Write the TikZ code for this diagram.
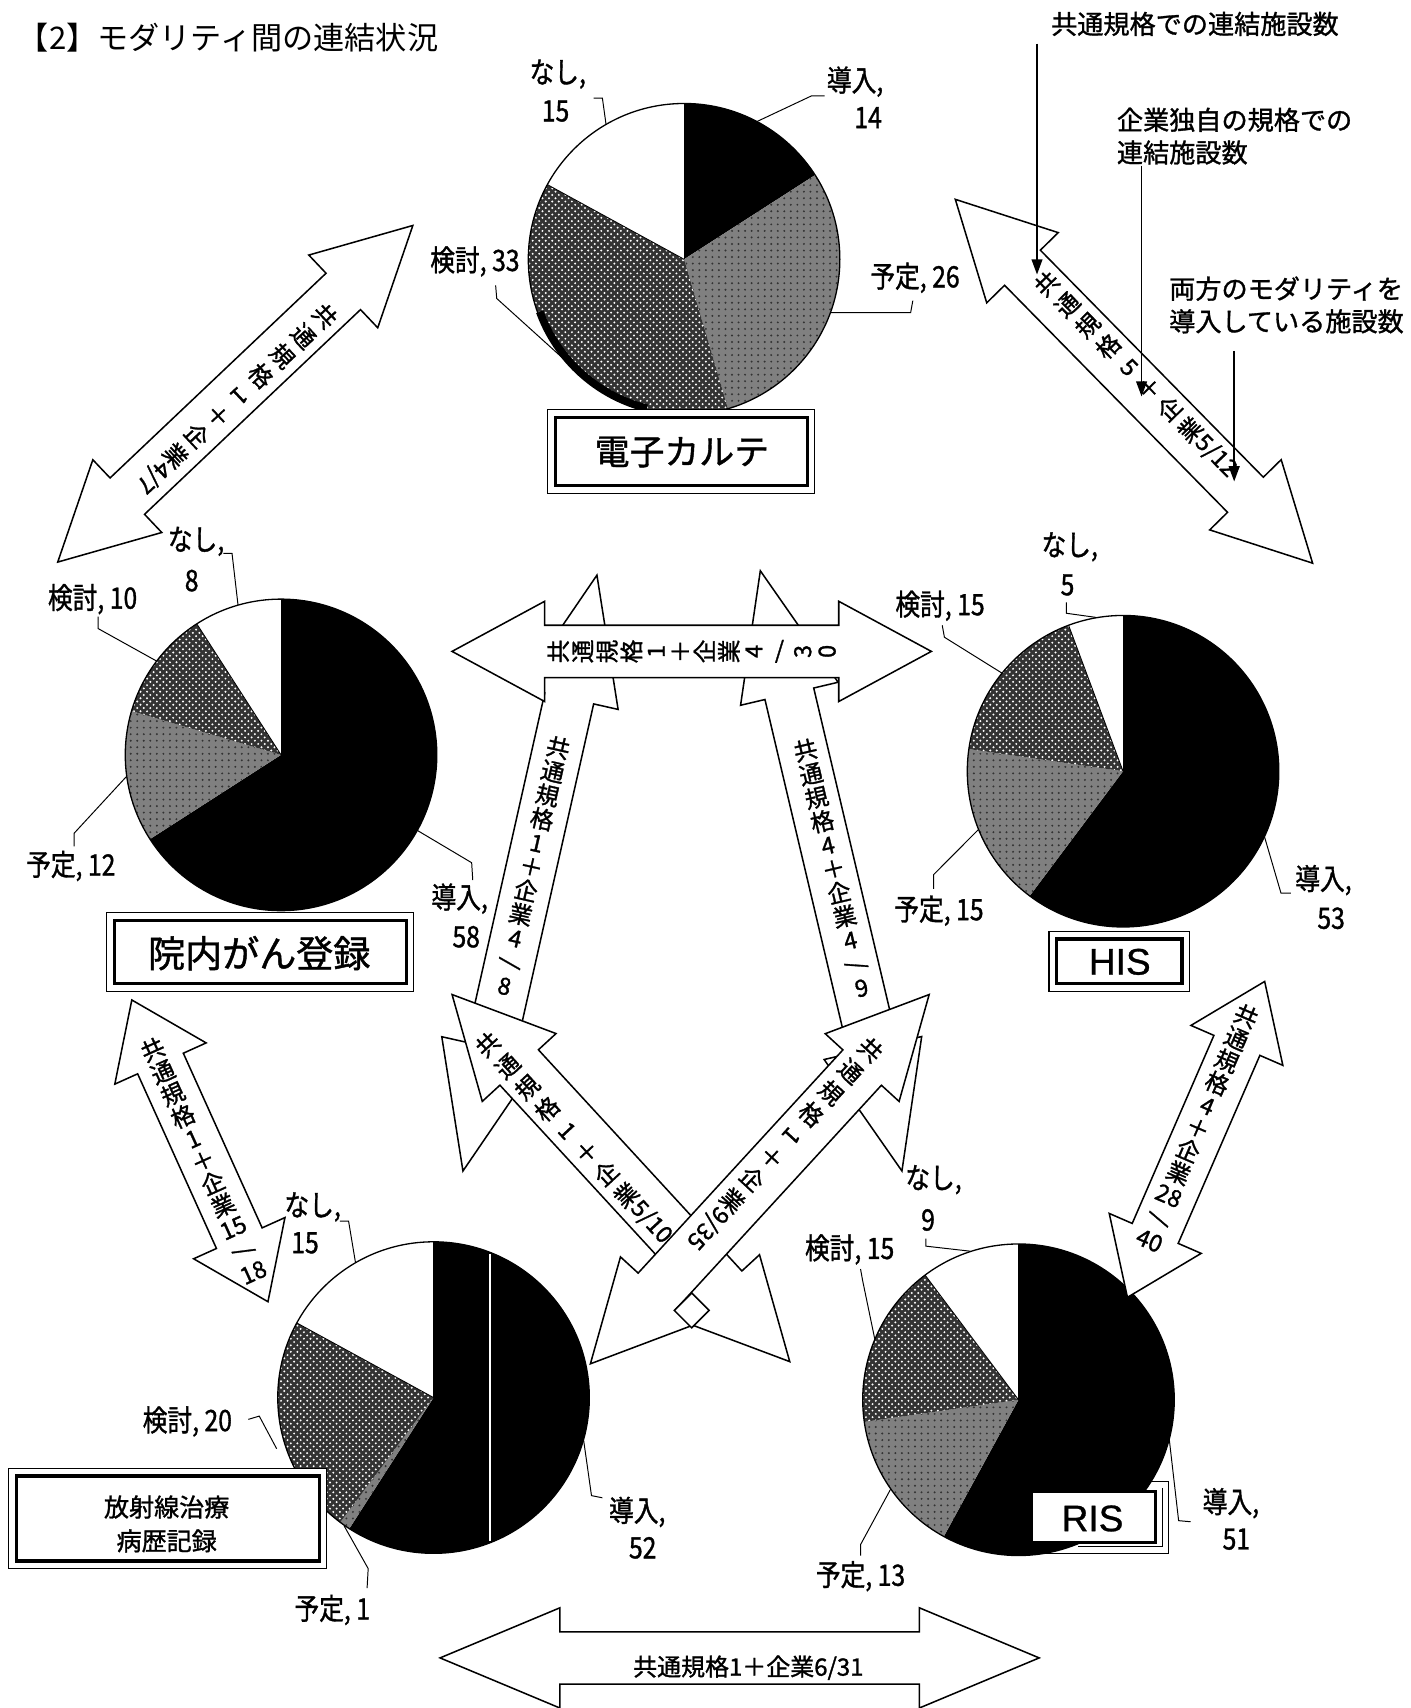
\documentclass[tikz,border=0pt]{standalone}
\usepackage{fontspec}
\usepackage{graphicx}
\usetikzlibrary{calc,patterns,arrows.meta}
\newfontfamily\jp{Noto Sans CJK JP}
\newfontfamily\jpb[FakeBold=1.2]{Noto Sans CJK JP}
\newfontfamily\jpc[FakeStretch=0.84,FakeBold=1.2]{Noto Sans CJK JP}
\newfontfamily\lsans[FakeBold=0.8]{Liberation Sans}
\newcommand\rot[1]{\rotatebox[origin=c]{-90}{#1}}

\tikzset{
  sdo/.style={fill=black},
  syo/.style={fill=black!50},
  skt/.style={fill=black!80},
  pielab/.style={font=\jpc\fontsize{13.5}{14}\selectfont, inner sep=0pt},
  leader/.style={draw, line width=0.45pt},
  barrow/.style={draw, fill=white, line width=0.7pt, line join=miter},
  atext/.style={font=\jpb\fontsize{10.8}{11.2}\selectfont, align=center, inner sep=0pt},
  atextw/.style={font=\jpb\fontsize{10.8}{13.4}\selectfont, align=center, inner sep=0pt},
  legtext/.style={font=\jpb\fontsize{12}{14}\selectfont, inner sep=0pt},
  legarrow/.style={draw, line width=0.7pt, -{Triangle[length=7pt,width=5pt]}},
  outerframe/.style={draw, line width=0.5pt, fill=white},
  innerframe/.style={draw, line width=1.5pt},
}

\newcommand\blockarrow[5]{%
  \coordinate (ba1) at ($(#1)!#5!(#2)$);
  \coordinate (ba2) at ($(#2)!#5!(#1)$);
  \draw[barrow] (#1) -- ($(ba1)!#4!90:(#2)$) -- ($(ba1)!#3!90:(#2)$)
    -- ($(ba2)!#3!-90:(#1)$) -- ($(ba2)!#4!-90:(#1)$) -- (#2)
    -- ($(ba2)!#4!90:(#1)$) -- ($(ba2)!#3!90:(#1)$)
    -- ($(ba1)!#3!-90:(#2)$) -- ($(ba1)!#4!-90:(#2)$) -- cycle;
}

\newcommand\piechart[7]{%
  \pgfmathsetmacro\pieT{#4+#5+#6+#7}%
  \pgfmathsetmacro\pA{-90+#4/\pieT*360}%
  \pgfmathsetmacro\pB{\pA+#5/\pieT*360}%
  \pgfmathsetmacro\pC{\pB+#6/\pieT*360}%
  \fill[sdo] (#2,#3) -- ++(-90:143) arc[start angle=-90,end angle=\pA,radius=143] -- cycle;
  \fill[syo] (#2,#3) -- ++(\pA:143) arc[start angle=\pA,end angle=\pB,radius=143] -- cycle;
  \fill[pattern=dots,pattern color=black!80] (#2,#3) -- ++(\pA:143) arc[start angle=\pA,end angle=\pB,radius=143] -- cycle;
  \fill[skt] (#2,#3) -- ++(\pB:143) arc[start angle=\pB,end angle=\pC,radius=143] -- cycle;
  \fill[pattern=crosshatch dots,pattern color=white] (#2,#3) -- ++(\pB:143) arc[start angle=\pB,end angle=\pC,radius=143] -- cycle;
  \fill[white] (#2,#3) -- ++(\pC:143) arc[start angle=\pC,end angle=270,radius=143] -- cycle;
  \draw[line width=0.4pt] (#2,#3) -- ++(-90:143);
  \draw[line width=0.4pt] (#2,#3) -- ++(\pC:143);
  \draw[line width=0.6pt] (#2,#3) circle[radius=143];
  \node[circle,minimum size=143pt,inner sep=0pt] (#1) at (#2,#3) {};
}

\begin{document}
\begin{tikzpicture}[x=0.5pt,y=-0.5pt]
\useasboundingbox (0,0) rectangle (1295,1568);
\fill[white] (0,0) rectangle (1295,1568);

% title
\node[anchor=west, font=\jp\fontsize{14.3}{16}\selectfont, inner sep=0pt] (title) at (16,35) {【2】モダリティ間の連結状況};

% RIS outer frame (behind pie)
\draw[outerframe] (940,1360) rectangle (1073,1426);
\draw[line width=0.5pt] (1067,1366) -- (1067,1420) -- (990,1420);

% pies
\piechart{P1}{628}{238}{14}{26}{33}{15}
\draw[line width=3.5pt] ($(628,238)+(104:141)$) arc[start angle=104,end angle=160,radius=141];
\piechart{P2}{258}{693}{58}{12}{10}{8}
\piechart{P3}{1031}{708}{53}{15}{15}{5}
\piechart{P4}{398}{1283}{52}{1}{20}{15}
\draw[white, line width=1pt] (450,1151) -- (450,1415);
\piechart{P5}{935}{1285}{51}{13}{15}{9}

% name boxes
\draw[outerframe] (503,376) rectangle (748,453);
\draw[innerframe] (510,383) rectangle (741,446);
\node[font=\jpb\fontsize{16}{18}\selectfont] (B1) at (626,415) {電子カルテ};

\draw[outerframe] (98,838) rectangle (380,910);
\draw[innerframe] (105,845) rectangle (373,903);
\node[font=\jpb\fontsize{17}{19}\selectfont] (B2) at (238,875) {院内がん登録};

\draw[outerframe] (963,855) rectangle (1092,910);
\draw[innerframe] (970,862) rectangle (1085,903);
\node[font=\lsans\fontsize{17}{19}\selectfont] (B3) at (1028,883) {HIS};

\draw[outerframe] (8,1348) rectangle (300,1440);
\draw[innerframe] (15,1355) rectangle (293,1433);
\node[font=\jpb\fontsize{11.5}{15.5}\selectfont, align=center] (B4) at (153,1399) {放射線治療\\病歴記録};

\draw[fill=white, line width=1.2pt] (947,1369) rectangle (1061,1416);
\node[font=\lsans\fontsize{17}{19}\selectfont] (B5) at (1003,1394) {RIS};

% arrow end points
\coordinate (a4u) at (548,528);  \coordinate (a4d) at (425,1075);
\coordinate (a5u) at (698,524);  \coordinate (a5d) at (828,1075);
\coordinate (a3l) at (415,598);  \coordinate (a3r) at (855,598);
\coordinate (a1u) at (379,207);  \coordinate (a1d) at (53,516);
\coordinate (a2u) at (877,183);  \coordinate (a2d) at (1205,517);
\coordinate (a8u) at (121,918);  \coordinate (a8d) at (246,1195);
\coordinate (a9u) at (1161,901); \coordinate (a9d) at (1035,1191);
\coordinate (a6u) at (415,913);  \coordinate (a6d) at (725,1250);
\coordinate (a7u) at (853,913);  \coordinate (a7d) at (542,1252);
\coordinate (a10l) at (404,1522); \coordinate (a10r) at (954,1522);

\blockarrow{a4u}{a4d}{11.5pt}{23pt}{58pt}
\blockarrow{a5u}{a5d}{11.5pt}{23pt}{58pt}
\blockarrow{a3l}{a3r}{12pt}{23pt}{42.5pt}
\blockarrow{a1u}{a1d}{11.5pt}{23pt}{44pt}
\blockarrow{a2u}{a2d}{11.5pt}{23pt}{44pt}
\blockarrow{a8u}{a8d}{11.5pt}{23pt}{32pt}
\blockarrow{a9u}{a9d}{11.5pt}{23pt}{32pt}
\blockarrow{a6u}{a6d}{12pt}{23pt}{45.5pt}
\blockarrow{a7u}{a7d}{12pt}{23pt}{45.5pt}
\draw[fill=white, line width=0.7pt] (635,1187) -- (651,1203) -- (635,1219) -- (619,1203) -- cycle;
\blockarrow{a10l}{a10r}{12pt}{23pt}{55pt}

% arrow texts
\node[atextw, rotate=-47] (t1) at (217,366) {共\\通\\規\\格\\\rot{1}\\＋\\企\\業\\\rot{4/7}};
\node[atextw, rotate=44.5] (t2) at (1043,344) {共\\通\\規\\格\\\rot{5}\\＋\\企\\業\\\rot{5/12}};
\node[atext, rotate=90] (t3) at (635,598) {共\\通\\規\\格\\1\\＋\\企\\業\\4\\\rot{/}\\3\\0};
\node[atext, rotate=-12.7] (t4) at (488,795) {共\\通\\規\\格\\1\\＋\\企\\業\\4\\\rot{/}\\8};
\node[atext, rotate=13.3] (t5) at (765,797) {共\\通\\規\\格\\4\\＋\\企\\業\\4\\\rot{/}\\9};
\node[atextw, rotate=42.6] (t6) at (527,1045) {共\\通\\規\\格\\\rot{1}\\＋\\企\\業\\\rot{5/10}};
\node[atextw, rotate=-42.5] (t7) at (720,1050) {共\\通\\規\\格\\\rot{1}\\＋\\企\\業\\\rot{9/35}};
\node[atext, rotate=24.3] (t8) at (186,1065) {共\\通\\規\\格\\1\\＋\\企\\業\\15\\\rot{/}\\18};
\node[atext, rotate=-23.3] (t9) at (1100,1035) {共\\通\\規\\格\\4\\＋\\企\\業\\28\\\rot{/}\\40};
\node[font=\jpb\fontsize{11}{13}\selectfont, inner sep=0pt] (t10) at (687,1531) {共通規格1＋企業6/31};

% legend
\node[legtext] (g1) at (1097,22) {共通規格での連結施設数};
\node[legtext, anchor=west] (g2) at (1025,110) {企業独自の規格での};
\node[legtext, anchor=west] (g2b) at (1025,140) {連結施設数};
\node[legtext, anchor=west] (g3) at (1073,265) {両方のモダリティを};
\node[legtext, anchor=west] (g3b) at (1073,295) {導入している施設数};
\coordinate (g1s) at (952,40);   \coordinate (g1e) at (952,252);
\coordinate (g2s) at (1048,152); \coordinate (g2e) at (1048,364);
\coordinate (g3s) at (1133,322); \coordinate (g3e) at (1133,442);
\draw[legarrow] (g1s) -- (g1e);
\draw[legarrow] (g2s) -- (g2e);
\draw[legarrow] (g3s) -- (g3e);

% pie labels P1
\node[pielab] (l1a) at (512,68) {なし,};
\node[pielab] (l1b) at (510,102) {15};
\node[pielab] (l1c) at (785,75) {導入,};
\node[pielab] (l1d) at (797,108) {14};
\node[pielab] (l1e) at (840,255) {予定, 26};
\node[pielab] (l1f) at (436,240) {検討, 33};
\draw[leader] (545,90) -- (553,90) -- (P1.120);
\draw[leader] (757,88) -- (745,88) -- (P1.62);
\draw[leader] (838,276) -- (836,287) -- (P1.-20);
\draw[leader] (455,262) -- (456,274) -- (P1.-140);

% P2
\node[pielab] (l2a) at (180,497) {なし,};
\node[pielab] (l2b) at (176,533) {8};
\node[pielab] (l2c) at (85,550) {検討, 10};
\node[pielab] (l2d) at (65,795) {予定, 12};
\node[pielab] (l2e) at (422,825) {導入,};
\node[pielab] (l2f) at (428,860) {58};
\draw[leader] (205,508) -- (213,508) -- (P2.106);
\draw[leader] (90,566) -- (90,577) -- (P2.143);
\draw[leader] (68,777) -- (68,765) -- (P2.188);
\draw[leader] (434,808) -- (433,792) -- (P2.-29);

% P3
\node[pielab] (l3a) at (982,502) {なし,};
\node[pielab] (l3b) at (980,537) {5};
\node[pielab] (l3c) at (863,556) {検討, 15};
\node[pielab] (l3d) at (862,836) {予定, 15};
\node[pielab] (l3e) at (1215,808) {導入,};
\node[pielab] (l3f) at (1222,843) {53};
\draw[leader] (979,553) -- (979,563) -- (P3.100);
\draw[leader] (865,574) -- (867,585) -- (P3.141);
\draw[leader] (857,816) -- (857,803) -- (P3.202.5);
\draw[leader] (1185,820) -- (1176,820) -- (P3.-25);

% P4
\node[pielab] (l4a) at (287,1108) {なし,};
\node[pielab] (l4b) at (280,1141) {15};
\node[pielab] (l4c) at (172,1305) {検討, 20};
\node[pielab] (l4d) at (305,1478) {予定, 1};
\node[pielab] (l4e) at (585,1388) {導入,};
\node[pielab] (l4f) at (590,1421) {52};
\draw[leader] (312,1121) -- (320,1121) -- (P4.120);
\draw[leader] (228,1303) -- (238,1300) -- (254,1330);
\draw[leader] (337,1458) -- (338,1440) -- (P4.-125);
\draw[leader] (553,1375) -- (543,1373) -- (P4.-16);

% P5
\node[pielab] (l5a) at (857,1083) {なし,};
\node[pielab] (l5b) at (852,1120) {9};
\node[pielab] (l5c) at (780,1147) {検討, 15};
\node[pielab] (l5d) at (790,1447) {予定, 13};
\node[pielab] (l5e) at (1130,1380) {導入,};
\node[pielab] (l5f) at (1135,1413) {51};
\draw[leader] (850,1137) -- (850,1144) -- (P5.108);
\draw[leader] (790,1165) -- (792,1176) -- (P5.157);
\draw[leader] (790,1428) -- (790,1418) -- (P5.-145);
\draw[leader] (1093,1397) -- (1082,1396) -- (P5.-15);
\end{tikzpicture}
\end{document}
